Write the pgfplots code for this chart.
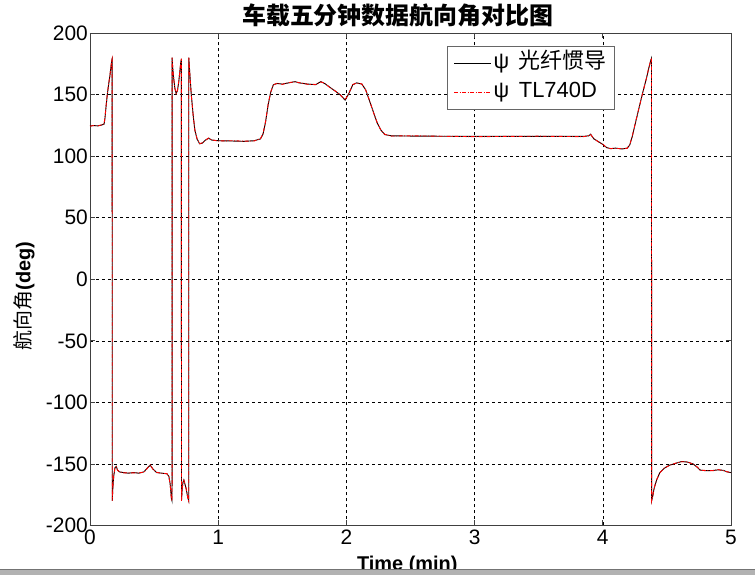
\documentclass[border=0pt]{standalone}
\usepackage{pgfplots}
\pgfplotsset{compat=1.18}
\usepackage{pgfplotstable}
\usepackage{fontspec}
\setmainfont{Liberation Sans}
\newfontfamily\cjk{Noto Sans CJK SC}

\pgfplotstableread{
t v
0 124.5
0.03 124.8
0.06 124.6
0.09 125.2
0.110 126
0.117 131
0.125 140
0.135 150
0.145 158
0.155 165
0.163 172
0.170 178
0.173 179
0.1735 -180
0.178 -170
0.185 -160
0.195 -153
0.205 -152
0.215 -155
0.23 -156.5
0.26 -157
0.30 -157.5
0.34 -157
0.38 -157.5
0.42 -156.5
0.45 -153
0.47 -151
0.49 -154
0.52 -157
0.56 -157.5
0.60 -158
0.615 -160
0.625 -166
0.635 -178
0.640 -180
0.6405 180
0.645 172
0.652 164
0.662 155
0.672 151
0.682 153
0.692 160
0.700 168
0.708 176
0.713 179
0.7135 -180
0.718 -172
0.725 -165
0.732 -163
0.740 -166
0.750 -170
0.762 -177
0.770 -180
0.7705 180
0.778 168
0.790 150
0.805 133
0.818 121
0.835 114
0.855 110
0.875 110.5
0.90 113
0.925 114.5
0.95 113
1.0 112.5
1.1 112.3
1.2 112
1.28 112.5
1.33 114
1.35 118
1.37 128
1.39 142
1.41 152
1.43 158
1.46 159
1.50 158.5
1.55 159.5
1.60 160.5
1.63 159.5
1.70 158.5
1.76 158
1.80 160.5
1.83 159
1.87 156
1.91 153
1.95 150
1.99 145.5
2.02 151
2.05 158
2.08 159.5
2.12 158.5
2.15 154
2.18 145
2.21 136
2.24 127
2.27 121
2.30 117.5
2.35 116.5
2.5 116.3
3.0 116
3.5 116
3.85 116
3.89 116.5
3.905 117.8
3.93 114
3.97 111.5
4.0 109.5
4.03 107
4.06 106
4.10 106.5
4.15 105.8
4.19 106.5
4.21 109
4.23 116
4.25 125
4.28 138
4.31 151
4.34 163
4.36 172
4.375 178
4.38 179.5
4.3805 -180
4.39 -176
4.40 -170
4.42 -163
4.445 -157
4.48 -153.5
4.52 -151
4.57 -149.5
4.615 -148
4.66 -148.5
4.705 -150
4.74 -153
4.76 -155
4.80 -155.5
4.86 -155.3
4.90 -154.8
4.94 -155.2
4.97 -156.5
5.0 -157
}\fog

\pgfplotstableread{
t v
0 124.3
0.03 124.9
0.06 124.4
0.09 125.4
0.110 126.3
0.117 131.5
0.125 140.5
0.135 150.3
0.145 158.4
0.155 165.2
0.163 172.4
0.170 178.2
0.173 179.3
0.1735 -180
0.178 -169.6
0.185 -159.7
0.195 -152.8
0.205 -152.2
0.215 -155.2
0.23 -156.3
0.26 -157.2
0.30 -157.3
0.34 -157.2
0.38 -157.3
0.42 -156.7
0.45 -153.2
0.47 -150.8
0.49 -154.2
0.52 -156.8
0.56 -157.7
0.60 -157.8
0.615 -160.3
0.625 -166.4
0.635 -178.2
0.640 -180
0.6405 180
0.645 171.7
0.652 163.8
0.662 155.3
0.672 150.8
0.682 153.3
0.692 160.2
0.700 168.3
0.708 176.2
0.713 179.2
0.7135 -180
0.718 -171.8
0.725 -164.7
0.732 -163.2
0.740 -166.3
0.750 -170.2
0.762 -177.2
0.770 -180
0.7705 180
0.778 167.7
0.790 149.6
0.805 132.8
0.818 121.3
0.835 114.2
0.855 110.2
0.875 110.7
0.90 112.8
0.925 114.7
0.95 113.2
1.0 112.3
1.1 112.5
1.2 112.2
1.28 112.3
1.33 114.3
1.35 118.4
1.37 128.3
1.39 142.4
1.41 152.2
1.43 157.8
1.46 159.2
1.50 158.3
1.55 159.7
1.60 160.3
1.63 159.7
1.70 158.3
1.76 158.2
1.80 160.3
1.83 159.2
1.87 155.8
1.91 153.2
1.95 149.8
1.99 145.7
2.02 151.3
2.05 158.2
2.08 159.3
2.12 158.7
2.15 153.8
2.18 145.3
2.21 135.7
2.24 127.3
2.27 120.8
2.30 117.7
2.35 116.3
2.5 116.5
3.0 115.8
3.5 116.2
3.85 115.8
3.89 116.7
3.905 117.6
3.93 114.2
3.97 111.3
4.0 109.7
4.03 106.8
4.06 106.2
4.10 106.3
4.15 106
4.19 106.3
4.21 109.2
4.23 116.3
4.25 125.2
4.28 138.3
4.31 150.8
4.34 163.2
4.36 172.3
4.375 178.2
4.38 179.6
4.3805 -180
4.39 -175.8
4.40 -169.7
4.42 -162.8
4.445 -157.2
4.48 -153.3
4.52 -151.2
4.57 -149.3
4.615 -148.2
4.66 -148.3
4.705 -150.2
4.74 -152.8
4.76 -155.2
4.80 -155.3
4.86 -155.5
4.90 -154.6
4.94 -155.4
4.97 -156.3
5.0 -157.2
}\tl

\begin{document}
\begin{tikzpicture}
\useasboundingbox (-90bp,-49bp) rectangle (665bp,525.5bp);
\begin{axis}[
  at={(0,0)}, anchor=south west,
  scale only axis,
  width=641bp, height=492.5bp,
  xmin=0, xmax=5, ymin=-200, ymax=200,
  xtick={0,1,2,3,4,5},
  ytick={-200,-150,-100,-50,0,50,100,150,200},
  /pgf/number format/assume math mode=true,
  tick label style={font=\fontsize{21}{24}\selectfont},
  yticklabel style={inner sep=2bp},
  xticklabel style={inner sep=4.5bp},
  tick align=inside,
  tick pos=both,
  major tick length=5bp,
  axis line style={black!75, line width=0.8bp},
  major tick style={black!75, line width=0.7bp},
  grid=major,
  major grid style={black, dash pattern=on 3bp off 3bp, line width=0.6bp},
  title={{\cjk\bfseries 车载五分钟数据航向角对比图}},
  title style={at={(axis description cs:0.48,1)}, anchor=base, yshift=2.5bp, inner sep=0pt, font=\fontsize{24}{28}\selectfont},
  xlabel={\textbf{Time (min)}},
  xlabel style={at={(axis description cs:0.495,0)}, anchor=base, yshift=-44.5bp, inner sep=0pt, font=\fontsize{20}{24}\selectfont},
  ylabel={{\cjk 航向角}\textbf{(deg)}},
  ylabel style={at={(axis description cs:-0.103,0.466)}, anchor=center, inner sep=0pt, font=\fontsize{20}{24}\selectfont},
  legend style={at={(rel axis cs:0.819,0.974)}, anchor=north east, draw=black!60, line width=0.8bp, fill=white,
    font=\fontsize{22}{26}\selectfont, inner xsep=6bp, inner ysep=2.5bp, row sep=0bp,
    nodes={inner sep=2bp, text height=18bp, text depth=7bp}},
  legend cell align=left,
  legend image code/.code={\draw[#1] (0bp,0bp) -- (37bp,0bp);},
]
\addplot[black, line width=0.9bp] table[x=t, y=v] {\fog};
\addlegendentry{ψ\, {\cjk 光纤惯导}}
\addplot[red, line width=0.9bp, dash pattern=on 4bp off 1.5bp on 1bp off 1.5bp] table[x=t, y=v] {\tl};
\addlegendentry{ψ\, TL740D}
\end{axis}
\fill[black!30] (-90bp,-49bp) rectangle (665bp,-44bp);
\draw[black!55, line width=0.8bp] (-90bp,-44bp) -- (665bp,-44bp);
\end{tikzpicture}
\end{document}
